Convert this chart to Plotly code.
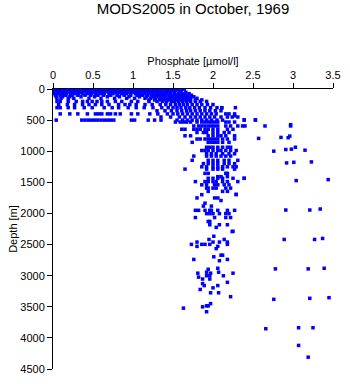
import plotly.graph_objects as go

# ---- data: depth level -> phosphate values ----
surface_depths = [0, 10, 20, 30, 50, 75, 100, 125, 150, 175, 200, 250, 300, 350, 400, 450, 500]
surface_phosphate = [
    [0.01,0.05,0.09,0.13,0.18,0.22,0.26,0.31,0.35,0.39,0.44,0.48,0.52,0.57,0.61,0.65,0.70,0.74,0.78,0.83,0.87,0.91,0.96,1.00,1.04,1.09,1.13,1.17,1.22,1.26,1.30,1.35,1.40,1.46,1.52,1.58,1.64],
    [0.03,0.07,0.11,0.16,0.20,0.24,0.29,0.33,0.37,0.42,0.46,0.50,0.55,0.59,0.63,0.68,0.72,0.76,0.81,0.85,0.89,0.94,0.98,1.02,1.07,1.11,1.15,1.20,1.24,1.28,1.33,1.38,1.43,1.49,1.55,1.61],
    [0.02,0.06,0.10,0.15,0.19,0.23,0.27,0.32,0.36,0.41,0.45,0.49,0.53,0.58,0.62,0.66,0.71,0.75,0.79,0.84,0.88,0.92,0.97,1.01,1.05,1.10,1.14,1.18,1.23,1.27,1.31,1.36,1.41,1.47,1.53],
    [0.01,0.05,0.09,0.14,0.18,0.22,0.27,0.31,0.35,0.40,0.44,0.48,0.53,0.57,0.61,0.66,0.70,0.74,0.79,0.83,0.87,0.92,0.96,1.00,1.05,1.09,1.13,1.18,1.22,1.26,1.31,1.36,1.42,1.50,1.58],
    [0.02,0.06,0.11,0.15,0.20,0.24,0.28,0.33,0.37,0.42,0.46,0.51,0.55,0.60,0.64,0.69,0.73,0.78,0.82,0.87,0.91,0.96,1.00,1.05,1.10,1.15,1.20,1.25,1.30,1.35,1.40,1.45,1.52,1.60,1.66],
    [0.02,0.07,0.12,0.17,0.22,0.27,0.32,0.37,0.43,0.48,0.53,0.59,0.64,0.70,0.75,0.81,0.86,0.92,0.97,1.03,1.08,1.14,1.19,1.24,1.29,1.33,1.38,1.42,1.47,1.52,1.57,1.63,1.70],
    [0.03,0.09,0.16,0.24,0.31,0.40,0.47,0.56,0.63,0.72,0.80,0.89,0.97,1.05,1.12,1.18,1.23,1.28,1.33,1.37,1.41,1.46,1.50,1.55,1.60,1.66,1.73],
    [0.04,0.12,0.21,0.35,0.52,0.68,0.83,0.95,1.08,1.17,1.25,1.30,1.35,1.40,1.45,1.49,1.54,1.58,1.63,1.69,1.76],
    [0.05,0.10,0.19,0.26,0.45,0.60,0.77,0.92,1.02,1.15,1.22,1.28,1.34,1.39,1.44,1.48,1.53,1.58,1.62,1.67,1.72,1.80],
    [1.20,1.27,1.33,1.38,1.43,1.47,1.52,1.56,1.61,1.66,1.71,1.78,1.86],
    [0.05,0.09,0.19,0.29,0.37,0.43,0.49,0.55,0.61,0.68,0.78,0.86,0.98,1.06,1.20,1.30,1.37,1.42,1.48,1.52,1.57,1.62,1.67,1.72,1.78,1.84,1.92],
    [0.07,0.18,0.27,0.37,0.45,0.53,0.61,0.70,0.82,0.90,0.96,1.04,1.15,1.24,1.34,1.41,1.47,1.53,1.58,1.63,1.68,1.74,1.80,1.86,1.93,2.00],
    [0.05,0.09,0.19,0.27,0.39,0.49,0.64,0.74,0.82,0.94,1.04,1.14,1.25,1.36,1.44,1.50,1.55,1.60,1.66,1.71,1.77,1.83,1.90,1.97,2.05,2.11,2.28],
    [1.30,1.40,1.48,1.55,1.61,1.67,1.72,1.78,1.84,1.90,1.96,2.03,2.10],
    [0.09,0.21,0.31,0.43,0.53,0.57,0.61,0.68,0.72,0.78,0.84,0.98,1.06,1.21,1.31,1.43,1.50,1.56,1.62,1.68,1.74,1.80,1.86,1.92,1.98,2.04,2.16,2.20,2.27],
    [1.35,1.47,1.58,1.65,1.72,1.78,1.84,1.90,1.96,2.02,2.10,2.18,2.24,2.31],
    [0.04,0.36,0.40,0.44,0.48,0.52,0.56,0.60,0.64,0.68,0.72,0.76,0.98,1.02,1.19,1.27,1.35,1.55,1.62,1.68,1.74,1.80,1.86,1.92,1.98,2.05,2.12,2.39,2.53],
]

column_depths = [531, 594, 647, 699, 752, 804, 857, 936, 988, 1041, 1078, 1146, 1199, 1251, 1288,
                 1356, 1409, 1435, 1488, 1540, 1593, 1645, 1698, 1751, 1793, 1835, 1882, 1950, 2003,
                 2066, 2129, 2182, 2224, 2287, 2366, 2418, 2460, 2497, 2529, 2565, 2671, 2697, 2739,
                 2760, 2881, 2897, 2944, 2960, 3002, 3023, 3054, 3107, 3128, 3159, 3196, 3222, 3275,
                 3338, 3449, 3485, 3501, 3522, 3580]
column_phosphate = [
    [1.53,1.59,1.63,1.67,1.72,1.80,1.86,1.90,1.94,1.98,2.02,2.06,2.16,2.20,2.27],
    [1.76,1.82,1.86,1.90,1.94,1.98,2.02,2.06,2.16,2.22,2.31,2.37,2.40,2.65,2.97],
    [1.61,1.65,1.76,1.80,1.84,1.90,1.94,2.00,2.06,2.18,2.25],
    [1.80,1.88,1.92,2.00,2.06,2.14,2.20],
    [1.65,1.72,1.94,2.00,2.06,2.10,2.16,2.27],
    [1.80,1.84,1.90,1.94,1.98,2.02,2.06,2.12,2.18,2.27],
    [1.74,1.94,1.98,2.02,2.06,2.12,2.20],
    [1.92,1.96,2.00,2.06,2.12,2.18,2.22],
    [1.86,1.90,1.94,2.00,2.06,2.10,2.16,2.22,2.29],
    [1.92,1.98,2.04,2.12,2.20,2.27],
    [1.76,1.92,1.98,2.04,2.10,2.16,2.22],
    [1.74,1.94,2.00,2.06,2.14,2.20,2.31],
    [1.88,1.94,2.00,2.06,2.14,2.20,2.27],
    [1.86,1.92,2.00,2.06,2.12,2.18,2.25,2.29],
    [1.65,1.92,2.00,2.06,2.12,2.27],
    [1.90,1.94,2.16,2.18],
    [2.06,2.10,2.18],
    [1.94,2.00,2.06,2.12,2.25,2.39],
    [1.78,1.90,1.94,2.00,2.04,2.12,2.18,2.31],
    [1.86,1.92,2.02,2.06,2.14,2.20],
    [1.92,1.94,2.00,2.04,2.16,2.22],
    [1.94,2.12,2.18],
    [1.86,2.29],
    [1.80,2.02,2.06],
    [2.10],
    [1.90],
    [1.88,1.98],
    [1.78,1.82,1.90,1.96,1.98,2.06,2.18,2.27],
    [1.92,1.96,2.00,2.08,2.16,2.20],
    [1.78,2.02,2.16,2.22],
    [1.94,1.96],
    [1.96,2.08,2.18],
    [2.04],
    [2.25],
    [2.01],
    [1.95,2.14],
    [1.80,2.00,2.08,2.18],
    [1.73,1.86,1.90,1.96,2.18],
    [1.80,2.06],
    [2.04],
    [2.10,2.12],
    [2.01],
    [1.76,2.18],
    [2.08],
    [2.06],
    [1.94],
    [1.92,2.07],
    [1.81,1.97,2.25],
    [1.92,1.96,2.13],
    [1.82],
    [1.87,1.96],
    [2.18],
    [1.87],
    [1.89,2.06],
    [2.00],
    [1.84],
    [1.97,2.07],
    [2.22],
    [1.97],
    [1.92,1.94],
    [1.87],
    [1.63],
    [1.92],
]

outlier_depth = [304, 430, 494, 494, 573, 794, 778, 783, 757, 999, 973, 967, 936, 983,
                 1188, 1178, 1172, 1435, 1472, 1456, 1692, 1945, 1945, 1929, 2291,
                 2418, 2418, 2402, 2891, 2891, 2881, 3380, 3364, 3354, 3853, 3837, 3837, 4121, 4310]
outlier_phosphate = [2.11, 2.27, 2.39, 2.53, 2.97, 2.57, 2.85, 2.94, 2.96, 2.76, 2.91, 2.98, 3.03, 3.15,
                     2.92, 3.01, 3.23, 2.39, 3.04, 3.44, 2.29, 2.91, 3.21, 3.34, 2.24,
                     2.89, 3.27, 3.37, 2.78, 3.19, 3.39, 2.76, 3.21, 3.45, 2.66, 3.07, 3.25, 3.07, 3.19]

x_ticks = [0, 0.5, 1, 1.5, 2, 2.5, 3, 3.5]
y_ticks = [0, 500, 1000, 1500, 2000, 2500, 3000, 3500, 4000, 4500]

# ---- flatten ----
phos, depth = [], []
for d, xs in zip(surface_depths, surface_phosphate):
    phos += xs; depth += [d] * len(xs)
for d, xs in zip(column_depths, column_phosphate):
    phos += xs; depth += [d] * len(xs)
phos += outlier_phosphate
depth += outlier_depth

FONT = "Liberation Sans, Arial, sans-serif"

fig = go.Figure(go.Scatter(
    x=phos, y=depth, mode="markers",
    marker=dict(symbol="square", size=3.5, color="#0000FF", line=dict(width=0)),
    hoverinfo="skip", showlegend=False,
))

fig.update_layout(
    width=350, height=384,
    margin=dict(l=53, r=11, t=89, b=9),
    paper_bgcolor="white", plot_bgcolor="white",
    font=dict(family=FONT, size=11, color="black"),
    title=dict(text="MODS2005 in October, 1969", x=0.5, xref="paper", xanchor="center",
               y=1 - 9 / 384, yref="container", yanchor="middle",
               font=dict(family=FONT, size=15, color="black")),
    xaxis=dict(side="top", range=[0, 3.5], tickvals=x_ticks,
               ticktext=[f"{v:g}" for v in x_ticks],
               ticks="outside", ticklen=5, tickcolor="black", tickwidth=1,
               showline=True, linecolor="black", linewidth=1, showgrid=False, zeroline=False,
               title=dict(text="Phosphate [µmol/l]", standoff=0, font=dict(size=11)),
               tickfont=dict(size=11)),
    yaxis=dict(range=[4500, 0], tickvals=y_ticks,
               ticktext=[str(v) for v in y_ticks],
               ticks="outside", ticklen=5, tickcolor="black", tickwidth=1,
               showline=True, linecolor="black", linewidth=1, showgrid=False, zeroline=False,
               title=dict(text="Depth [m]", standoff=0, font=dict(size=11)),
               tickfont=dict(size=11)),
)

fig.write_html("out.html")
